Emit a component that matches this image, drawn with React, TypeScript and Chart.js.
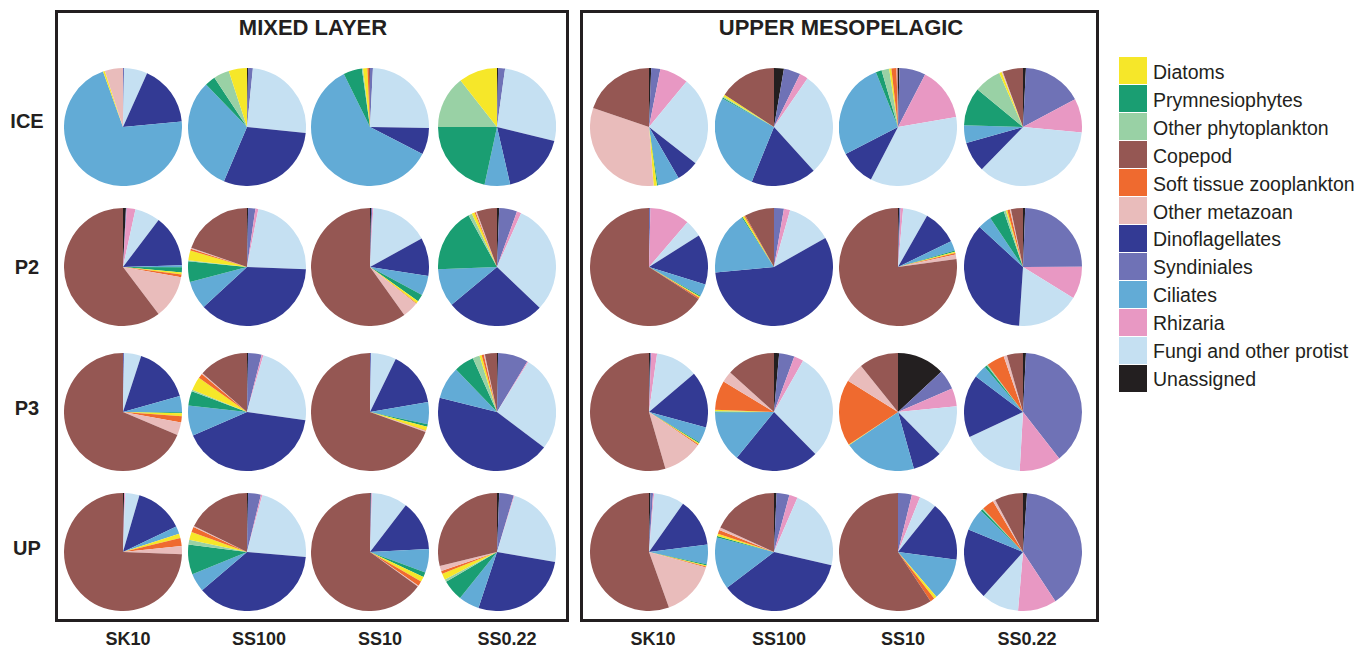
import React, { useEffect, useRef } from "react";
import { Chart, registerables } from "chart.js";

Chart.register(...registerables);

// Taxonomic groups in the order slices are drawn (clockwise from 12 o'clock)
const sliceOrder = [
  "Unassigned",
  "Syndiniales",
  "Rhizaria",
  "Fungi and other protist",
  "Dinoflagellates",
  "Ciliates",
  "Prymnesiophytes",
  "Other phytoplankton",
  "Diatoms",
  "Soft tissue zooplankton",
  "Other metazoan",
  "Copepod",
];

// Order of entries in the key
const legendOrder = [
  "Diatoms",
  "Prymnesiophytes",
  "Other phytoplankton",
  "Copepod",
  "Soft tissue zooplankton",
  "Other metazoan",
  "Dinoflagellates",
  "Syndiniales",
  "Ciliates",
  "Rhizaria",
  "Fungi and other protist",
  "Unassigned",
];

const groupColors: Record<string, string> = {
  Diatoms: "#f6e729",
  Prymnesiophytes: "#1a9e72",
  "Other phytoplankton": "#99d1a5",
  Copepod: "#955753",
  "Soft tissue zooplankton": "#ef6a2f",
  "Other metazoan": "#e9bcbb",
  Dinoflagellates: "#333a94",
  Syndiniales: "#6f72b6",
  Ciliates: "#62abd6",
  Rhizaria: "#e898c3",
  "Fungi and other protist": "#c5e0f2",
  Unassigned: "#231f20",
};

const layers = ["MIXED LAYER", "UPPER MESOPELAGIC"];
const depths = ["ICE", "P2", "P3", "UP"];
const stations = ["SK10", "SS100", "SS10", "SS0.22"];

// Relative read abundance (%) per station, values in sliceOrder
// Mixed layer
const mixedIce = [
  [0, 0.3, 0, 6.4, 16.8, 71, 0, 0, 0.5, 0, 5.0, 0],
  [0.3, 1.3, 0, 25, 29.8, 31.4, 2.9, 4.3, 5.0, 0, 0, 0],
  [0, 0.8, 0, 24.5, 7.3, 60.1, 5.1, 0.3, 1.2, 0.4, 0, 0.3],
  [0.3, 1.9, 0, 26.6, 17.6, 7.0, 21.6, 14.4, 10.6, 0, 0, 0],
];
const mixedP2 = [
  [0.8, 0.2, 2.4, 6.9, 14.2, 0.6, 1.4, 0, 0.5, 0.8, 11.9, 60.3],
  [0.3, 2, 0.8, 22.5, 37.6, 7.8, 5.6, 0.3, 2.7, 0.5, 0.3, 19.7],
  [0.3, 0.3, 0.3, 16.1, 10.5, 5.4, 2.0, 0, 0.7, 0.2, 4.4, 60],
  [0.6, 4.9, 1.2, 30.4, 26.8, 10.4, 17.6, 1.0, 0.8, 0.3, 0.3, 5.6],
];
const mixedP3 = [
  [0, 0.3, 0, 4.7, 15.7, 4.4, 0.3, 0, 0.8, 1.7, 3.5, 68.8],
  [0.3, 3.7, 0.5, 22.8, 41.3, 8.3, 4.0, 0.4, 3.7, 1.3, 0.3, 13.6],
  [0, 0.3, 0, 6.9, 15.1, 6.0, 0.7, 0, 1.1, 0.1, 0.3, 69.5],
  [0.3, 8.3, 0.3, 26.4, 43.6, 8.9, 5.5, 1.9, 0.6, 0.6, 0.3, 3.3],
];
const mixedUp = [
  [0.3, 0, 0.3, 3.9, 13.4, 2.1, 0, 0, 1.2, 2.2, 2.2, 74.4],
  [0.3, 3.5, 0.4, 22.2, 37.5, 5.1, 8.2, 1.3, 2.2, 1.4, 0.3, 17.8],
  [0.2, 0.2, 0.2, 9.8, 13.8, 6.5, 1.3, 0, 1.4, 1.3, 0.3, 65.1],
  [0.6, 4.0, 0.2, 23.0, 27.4, 5.7, 5.8, 0.7, 1.7, 0.8, 1.4, 28.9],
];
// Upper mesopelagic
const mesoIce = [
  [0.6, 2.5, 7.9, 24.6, 6.1, 5.9, 0.3, 0, 0.9, 0, 31.5, 19.8],
  [2.7, 4.6, 2.3, 28.7, 17.9, 26.9, 0.3, 0.3, 0.6, 0, 0, 15.8],
  [0.4, 7.2, 14.7, 35.3, 9.8, 26.5, 1.6, 2.1, 0.6, 1.4, 0.2, 0.2],
  [0.8, 16.4, 9.3, 35.8, 8.3, 4.9, 10.5, 7.4, 0.7, 0, 0.3, 5.6],
];
const mesoP2 = [
  [0, 0.4, 10.9, 4.7, 13.8, 3.3, 0.3, 0, 0.3, 0.4, 0, 65.9],
  [0, 2.7, 1.7, 12.4, 56.7, 17.3, 0.3, 0, 0.5, 0.3, 0, 8.1],
  [0.3, 0.4, 0.7, 6.8, 9.6, 2.7, 0.3, 0, 0.4, 0.4, 1.2, 77.1],
  [0.6, 24.4, 8.9, 17.3, 35.9, 3.8, 4.1, 0.6, 0.4, 0.7, 0.3, 3.3],
];
const mesoP3 = [
  [0.3, 0.3, 1.6, 11.6, 15.4, 4.4, 0.3, 0, 0.3, 0.3, 11.0, 54.5],
  [1.4, 4.2, 2.6, 29.4, 23.2, 14.0, 0.2, 0.2, 0.3, 8.1, 3.0, 13.3],
  [13.1, 5.4, 5.0, 14.1, 8.1, 19.9, 0, 0, 0.2, 18.2, 5.3, 10.8],
  [0.8, 38.6, 11.4, 17.1, 17.2, 3.5, 0.7, 0.3, 0, 4.9, 0.9, 4.4],
];
const mesoUp = [
  [0.4, 0.7, 0.3, 8.4, 13.2, 5.4, 0.3, 0, 0.3, 0.3, 15.3, 55.6],
  [0.7, 3.5, 2.3, 22.1, 36.0, 14.3, 0.4, 0, 0.6, 1.1, 0.7, 18.2],
  [0, 3.8, 2.3, 4.7, 16.3, 11.6, 0, 0, 0.8, 1.2, 0, 59.3],
  [1.1, 39.7, 10.6, 10.3, 19.6, 6.1, 0.6, 0.3, 0, 3.3, 0.7, 7.8],
];

const panels = [
  [mixedIce, mixedP2, mixedP3, mixedUp],
  [mesoIce, mesoP2, mesoP3, mesoUp],
];

const FONT = "'Liberation Sans', Arial, Helvetica, sans-serif";
const INK = "#231f20";

// Layout
const PIE_SIZE = 118;
const pieColX = [
  [123, 247, 370, 497],
  [649, 774, 898, 1023],
];
const pieRowY = [127, 267, 412, 552];
const stationLabelX = [
  [128, 259, 380, 507],
  [653, 779, 903, 1027],
];
const depthLabelY = [121, 267, 408, 548];
const boxes = [
  { left: 55, width: 514, titleX: 313 },
  { left: 580, width: 519, titleX: 841 },
];

function PieCell({ values, cx, cy }: { values: number[]; cx: number; cy: number }) {
  const ref = useRef<HTMLCanvasElement>(null);
  useEffect(() => {
    if (!ref.current) return;
    const chart = new Chart(ref.current, {
      type: "pie",
      data: {
        labels: sliceOrder,
        datasets: [
          {
            data: values,
            backgroundColor: sliceOrder.map((g) => groupColors[g]),
            borderWidth: 0,
          },
        ],
      },
      options: {
        responsive: false,
        animation: false,
        layout: { padding: 0 },
        plugins: { legend: { display: false }, tooltip: { enabled: true } },
      },
    });
    return () => chart.destroy();
  }, [values]);
  return (
    <canvas
      ref={ref}
      width={PIE_SIZE}
      height={PIE_SIZE}
      style={{ position: "absolute", left: cx - PIE_SIZE / 2, top: cy - PIE_SIZE / 2 }}
    />
  );
}

function Label({ text, x, y, size, bold = true }: { text: string; x: number; y: number; size: number; bold?: boolean }) {
  return (
    <div
      style={{
        position: "absolute",
        left: x,
        top: y,
        transform: "translate(-50%, -50%)",
        fontFamily: FONT,
        fontSize: size,
        fontWeight: bold ? 700 : 400,
        lineHeight: 1,
        color: INK,
        whiteSpace: "nowrap",
      }}
    >
      {text}
    </div>
  );
}

export default function App() {
  return (
    <div
      style={{
        position: "absolute",
        left: 0,
        top: 0,
        width: 1365,
        height: 649,
        background: "#ffffff",
        overflow: "hidden",
      }}
    >
      {boxes.map((b, i) => (
        <div
          key={"box" + i}
          style={{
            position: "absolute",
            left: b.left,
            top: 10,
            width: b.width,
            height: 612,
            border: `3px solid ${INK}`,
            boxSizing: "border-box",
          }}
        />
      ))}
      {layers.map((name, i) => (
        <Label key={name} text={name} x={boxes[i].titleX} y={28} size={22} />
      ))}
      {depths.map((d, r) => (
        <Label key={d} text={d} x={27} y={depthLabelY[r]} size={20} />
      ))}
      {panels.map((rows, p) =>
        stations.map((s, c) => (
          <Label key={`st-${p}-${c}`} text={s} x={stationLabelX[p][c]} y={639} size={18} />
        ))
      )}
      {panels.map((rows, p) =>
        rows.map((row, r) =>
          row.map((values, c) => (
            <PieCell key={`pie-${p}-${r}-${c}`} values={values} cx={pieColX[p][c]} cy={pieRowY[r]} />
          ))
        )
      )}
      {legendOrder.map((g, i) => (
        <React.Fragment key={g}>
          <div
            style={{
              position: "absolute",
              left: 1119,
              top: 57 + i * 28,
              width: 28,
              height: 27,
              background: groupColors[g],
            }}
          />
          <div
            style={{
              position: "absolute",
              left: 1153,
              top: 73 + i * 27.9,
              transform: "translateY(-50%)",
              fontFamily: FONT,
              fontSize: 19.5,
              lineHeight: 1,
              color: INK,
              whiteSpace: "nowrap",
            }}
          >
            {g}
          </div>
        </React.Fragment>
      ))}
    </div>
  );
}
